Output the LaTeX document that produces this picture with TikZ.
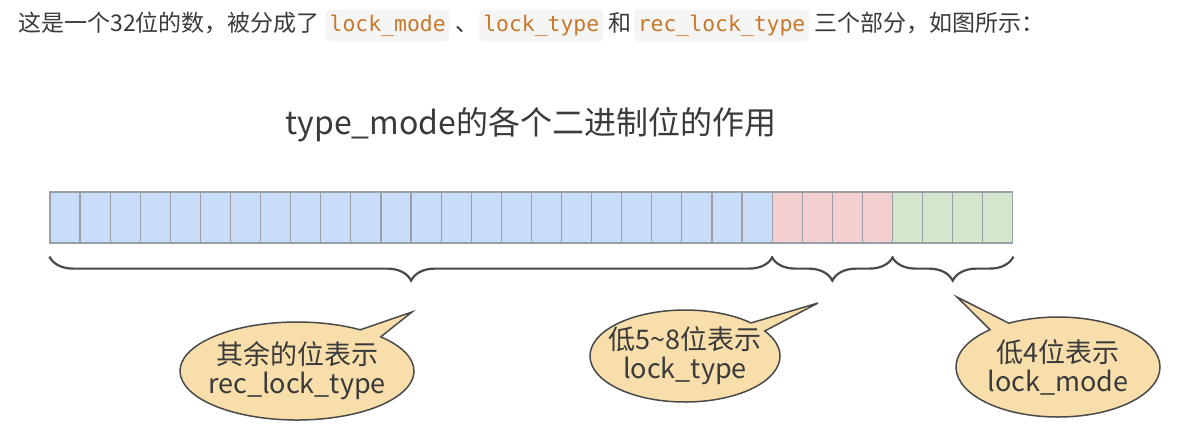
\documentclass[tikz,border=0pt]{standalone}
\usepackage{fontspec}
\setmainfont{Noto Sans CJK SC}
\setmonofont{DejaVu Sans Mono}
\usetikzlibrary{decorations.pathreplacing,shapes,shapes.callouts,positioning}

\definecolor{bluebit}{HTML}{C7DDF9}
\definecolor{redbit}{HTML}{F4CFCF}
\definecolor{greenbit}{HTML}{D4E7CE}
\definecolor{cellline}{HTML}{9AA0A6}
\definecolor{braceline}{HTML}{4A4A4A}
\definecolor{bubblefill}{HTML}{F7DEAA}
\definecolor{bubbleline}{HTML}{4A4A4A}
\definecolor{textgray}{HTML}{3A3A3A}
\definecolor{codebg}{HTML}{F5F5F5}
\definecolor{codetext}{HTML}{C8782A}

\tikzset{
  bit/.style={draw=cellline,line width=0.6pt,minimum height=25.5pt,minimum width=15.05pt,inner sep=0pt},
  plain/.style={inner sep=0pt,text=textgray,font=\fontsize{11.5}{14}\selectfont},
  code/.style={fill=codebg,rounded corners=2pt,text=codetext,font=\ttfamily\fontsize{10.7}{12}\selectfont,
    inner xsep=2pt,inner ysep=2.75pt,text height=8pt,text depth=2.5pt},
  span/.style={decorate,decoration={brace,mirror,amplitude=12pt},line width=1.1pt,draw=braceline},
  bubble/.style={ellipse callout,callout pointer arc=13,draw=bubbleline,fill=bubblefill,line width=0.75pt,
    align=center,inner xsep=-8pt,inner ysep=-3pt,text=textgray,font=\fontsize{13.5}{14.5}\selectfont}
}

\begin{document}
\begin{tikzpicture}[x=0.5pt,y=-0.5pt]
\useasboundingbox (0,0) rectangle (1191,447);

\node[plain,anchor=base west] (intro) at (18,31) {这是一个32位的数，被分成了};
\node[code,base right=2.5pt of intro] (cmode) {lock\_mode};
\node[plain,base right=2.5pt of cmode] (sep) {、};
\node[code,base right=0pt of sep] (ctype) {lock\_type};
\node[plain,base right=2pt of ctype] (and) {和};
\node[code,base right=1pt of and] (crec) {rec\_lock\_type};
\node[plain,base right=2pt of crec] (rest) {三个部分，如图所示：};

\node[text=textgray,font=\fontsize{16}{20}\selectfont] (title) at (531,125) {type\_mode的各个二进制位的作用};

\foreach \lo/\hi/\c in {1/24/bluebit,25/28/redbit,29/32/greenbit}
  \foreach \n in {\lo,...,\hi}
    \node[bit,fill=\c] (B\n) at ({50+30.09*(\n-0.5)},217.5) {};

\draw[span] ([yshift=-6.5pt]B1.south west) -- ([yshift=-6.5pt]B24.south east);
\draw[span] ([yshift=-6.5pt]B25.south west) -- ([yshift=-6.5pt]B28.south east);
\draw[span] ([yshift=-6.5pt]B29.south west) -- ([yshift=-6.5pt]B32.south east);

\coordinate (tipA) at (412,312);
\coordinate (tipB) at (818,303);
\coordinate (tipC) at (957,297);

\node[bubble,minimum width=117pt,minimum height=49pt,callout absolute pointer=(tipA)] (recnote) at (297,371) {其余的位表示\\rec\_lock\_type};
\node[bubble,minimum width=95pt,minimum height=46pt,callout absolute pointer=(tipB)] (typenote) at (685,356) {低5\textasciitilde 8位表示\\lock\_type};
\node[bubble,minimum width=102pt,minimum height=50pt,callout absolute pointer=(tipC)] (modenote) at (1058,367) {低4位表示\\lock\_mode};
\end{tikzpicture}
\end{document}
